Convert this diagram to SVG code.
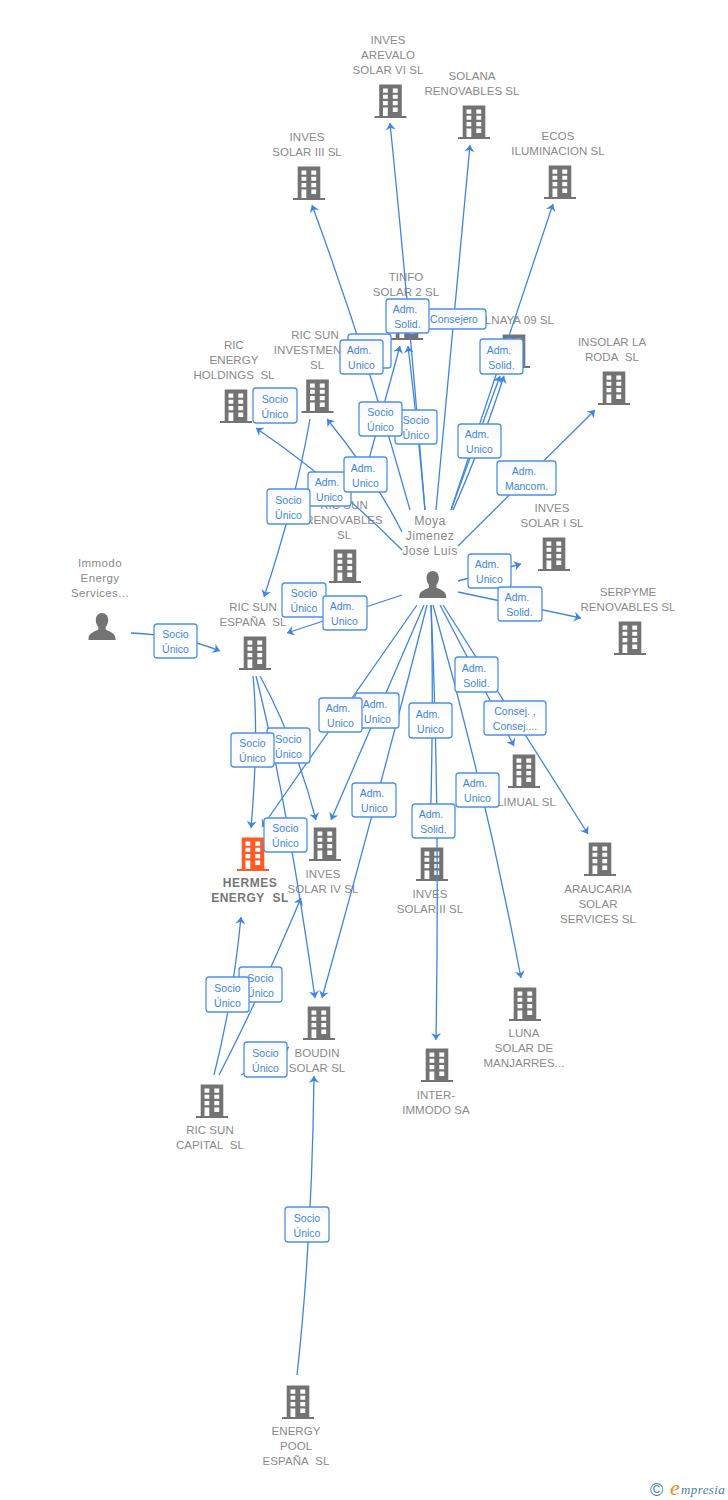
<svg xmlns="http://www.w3.org/2000/svg" width="728" height="1500" viewBox="0 0 728 1500">
<style>
text{font-family:"Liberation Sans",Arial,sans-serif}
.n{font-size:11.5px;letter-spacing:.05px;fill:#8a8a8a;text-anchor:middle}
.m{font-size:11.5px;letter-spacing:.4px;fill:#8a8a8a;text-anchor:middle}
.h{font-size:12px;letter-spacing:.5px;fill:#777;font-weight:bold;text-anchor:middle}
.p{font-size:12.3px;letter-spacing:.4px;fill:#8a8a8a;text-anchor:middle}
.g{fill:#737373}
.o{fill:#ff5a26}
#edges path{fill:none;stroke:#3f84e2;stroke-width:1.3;marker-end:url(#a)}
#labels rect{fill:url(#f);stroke:#4f90e6;stroke-width:1.3}
#labels text{font-size:10.5px;fill:#3f84e2;text-anchor:middle}
</style>
<defs>
<linearGradient id="f" x1="0" y1="0" x2="0" y2="1"><stop offset="0" stop-color="#f6f7f9"/><stop offset=".5" stop-color="#fff"/></linearGradient>
<marker id="a" viewBox="-8 -6 9 12" markerWidth="9" markerHeight="12" refX="0" refY="0" orient="auto" markerUnits="userSpaceOnUse"><path d="M-7-5L0 0L-7 5L-4.800 0Z" fill="#3f84e2"/></marker>
<path id="b" fill-rule="evenodd" d="M-11.300-33.500H11.300V-2H16V0H-16V-2H-11.300ZM-7.500-29.500V-25.300H-2.700V-29.500ZM2.300-29.500V-25.300H7.200V-29.500ZM-7.500-23.300V-19.200H-2.700V-23.300ZM2.300-23.300V-19.200H7.200V-23.300ZM-7.500-17V-12.800H-2.700V-17ZM2.300-17V-12.800H7.200V-17ZM-7.500-10.500V-2H-2.700V-10.500ZM2.300-10.500V-6H7.200V-10.500Z"/>
<path id="u" d="M0-27C3.800-27 6.200-24 6.200-20C6.200-17 5-14.500 3.700-13V-10.500C6-8.800 13.500-7.500 13.500-1.500V0H-13.500V-1.500C-13.500-7.500-6-8.800-3.700-10.500V-13C-5-14.500-6.200-17-6.200-20C-6.200-24-3.800-27 0-27Z"/>
</defs>
<rect width="728" height="1500" fill="#fff"/>
<g id="nodes">
<g id="n1"><use href="#b" class="g" x="390.500" y="118"/><text class="n" x="388" y="44">INVES</text><text class="n" x="388" y="59">AREVALO</text><text class="n" x="388" y="74">SOLAR VI SL</text></g>
<g id="n2"><use href="#b" class="g" x="474" y="139"/><text class="n" x="472" y="80">SOLANA</text><text class="n" x="472" y="95">RENOVABLES SL</text></g>
<g id="n3"><use href="#b" class="g" x="309" y="200"/><text class="n" x="307" y="141">INVES</text><text class="n" x="307" y="156">SOLAR III SL</text></g>
<g id="n4"><use href="#b" class="g" x="560" y="199"/><text class="n" x="558" y="140">ECOS</text><text class="n" x="558" y="155">ILUMINACION SL</text></g>
<g id="n5"><use href="#b" class="g" x="407" y="340"/><text class="n" x="406" y="281">TINFO</text><text class="n" x="406" y="296">SOLAR 2 SL</text></g>
<g id="n6"><use href="#b" class="g" x="514" y="368"/><text class="n" x="554" y="324" style="text-anchor:end">LNAYA 09 SL</text></g>
<g id="n7"><use href="#b" class="g" x="614" y="405"/><text class="n" x="612" y="346">INSOLAR LA</text><text class="n" x="612" y="361">RODA&#160; SL</text></g>
<g id="n8"><use href="#b" class="g" x="236" y="423"/><text class="n" x="234" y="349">RIC</text><text class="n" x="234" y="364">ENERGY</text><text class="n" x="234" y="379">HOLDINGS&#160; SL</text></g>
<g id="n9"><use href="#b" class="g" x="317.500" y="413"/><text class="n" x="315" y="339">RIC SUN</text><text class="n" x="315" y="354">INVESTMENTS</text><text class="n" x="317" y="369">SL</text></g>
<g id="n10"><use href="#b" class="g" x="345" y="583"/><text class="n" x="344" y="509">RIC SUN</text><text class="n" x="344" y="524">RENOVABLES</text><text class="n" x="344" y="539">SL</text></g>
<g id="n11"><use href="#b" class="g" x="554" y="571"/><text class="n" x="552" y="512">INVES</text><text class="n" x="552" y="527">SOLAR I SL</text></g>
<g id="n12"><use href="#b" class="g" x="630" y="655"/><text class="n" x="628" y="596">SERPYME</text><text class="n" x="628" y="611">RENOVABLES SL</text></g>
<g id="n13"><use href="#u" class="g" x="102" y="640"/><text class="m" x="100" y="567">Immodo</text><text class="m" x="100" y="582">Energy</text><text class="m" x="100" y="597">Services...</text></g>
<g id="n14"><use href="#b" class="g" x="255" y="670"/><text class="n" x="253" y="611">RIC SUN</text><text class="n" x="253" y="626">ESPAÑA&#160; SL</text></g>
<g id="n15"><use href="#u" class="g" x="432.700" y="598"/><text class="p" x="430" y="525">Moya</text><text class="p" x="430" y="540">Jimenez</text><text class="p" x="430" y="555">Jose Luis</text></g>
<g id="n16"><use href="#b" class="o" x="253" y="871"/><text class="h" x="250" y="887">HERMES</text><text class="h" x="250" y="902">ENERGY&#160; SL</text></g>
<g id="n17"><use href="#b" class="g" x="325" y="861"/><text class="n" x="323" y="878">INVES</text><text class="n" x="323" y="893">SOLAR IV SL</text></g>
<g id="n18"><use href="#b" class="g" x="432" y="881"/><text class="n" x="430" y="898">INVES</text><text class="n" x="430" y="913">SOLAR II SL</text></g>
<g id="n19"><use href="#b" class="g" x="524" y="788"/><text class="n" x="556" y="806" style="text-anchor:end">LIMUAL SL</text></g>
<g id="n20"><use href="#b" class="g" x="600" y="876"/><text class="n" x="598" y="893">ARAUCARIA</text><text class="n" x="598" y="908">SOLAR</text><text class="n" x="598" y="923">SERVICES SL</text></g>
<g id="n21"><use href="#b" class="g" x="319" y="1040"/><text class="n" x="317" y="1057">BOUDIN</text><text class="n" x="317" y="1072">SOLAR SL</text></g>
<g id="n22"><use href="#b" class="g" x="525" y="1021"/><text class="n" x="524" y="1037">LUNA</text><text class="n" x="524" y="1052">SOLAR DE</text><text class="n" x="524" y="1067">MANJARRES...</text></g>
<g id="n23"><use href="#b" class="g" x="437" y="1082"/><text class="n" x="436" y="1099">INTER-</text><text class="n" x="436" y="1114">IMMODO SA</text></g>
<g id="n24"><use href="#b" class="g" x="212" y="1118"/><text class="n" x="210" y="1134">RIC SUN</text><text class="n" x="210" y="1149">CAPITAL&#160; SL</text></g>
<g id="n25"><use href="#b" class="g" x="298" y="1419"/><text class="n" x="296" y="1435">ENERGY</text><text class="n" x="296" y="1450">POOL</text><text class="n" x="296" y="1465">ESPAÑA&#160; SL</text></g>
</g>
<g id="edges">
<path d="M410 510Q366 352 312 205"/>
<path d="M425 510Q408 300 390 123"/>
<path d="M436 510L470 145"/>
<path d="M451 510L553 204"/>
<path d="M451 510L500 376"/>
<path d="M453 510Q478 455 504 376"/>
<path d="M458 546L595 410"/>
<path d="M425 510Q417 420 408 346"/>
<path d="M360 492L400 346"/>
<path d="M402 550Q335 482 256 428"/>
<path d="M402 532Q375 478 327 419"/>
<path d="M402 595L287 633"/>
<path d="M310 419Q296 500 264 597"/>
<path d="M131 633Q180 635 220 651"/>
<path d="M458 581L521 564"/>
<path d="M458 592L581 618"/>
<path d="M440 605L514 746"/>
<path d="M443 605L588 834"/>
<path d="M433 605Q485 788 521 978"/>
<path d="M431 605Q440 800 436 1040"/>
<path d="M431 605Q434 700 430 838"/>
<path d="M417 605L262 827"/>
<path d="M424 605L331 820"/>
<path d="M427 605Q380 790 322 998"/>
<path d="M253 676Q259 735 251 828"/>
<path d="M260 676Q295 740 316 820"/>
<path d="M256 676Q285 790 315 998"/>
<path d="M214 1075Q233 1000 241 917"/>
<path d="M219 1075Q258 1000 301 898"/>
<path d="M241 1075L289 1047"/>
<path d="M297 1375Q312 1240 314 1076"/>
</g>
<g id="labels">
<rect x="421" y="309" width="65" height="20" rx="3"/><text x="454" y="323">Consejero</text>
<rect x="386" y="299" width="43" height="34" rx="3"/><text x="405" y="313">Adm.</text><text x="407.500" y="328">Solid.</text>
<rect x="348" y="334" width="43" height="34" rx="3"/>
<rect x="340" y="340" width="43" height="34" rx="3"/><text x="359" y="354">Adm.</text><text x="361.500" y="369">Unico</text>
<rect x="480" y="339" width="43" height="35" rx="3"/><text x="499" y="354">Adm.</text><text x="501.500" y="369">Solid.</text>
<rect x="253" y="388" width="44" height="35" rx="3"/><text x="275" y="403">Socio</text><text x="275" y="418">Único</text>
<rect x="395" y="410" width="42" height="34" rx="3"/><text x="416" y="424">Socio</text><text x="416" y="439">Único</text>
<rect x="359" y="402" width="43" height="34" rx="3"/><text x="380.500" y="416">Socio</text><text x="380.500" y="431">Único</text>
<rect x="458" y="424" width="43" height="34" rx="3"/><text x="477" y="438">Adm.</text><text x="479.500" y="453">Unico</text>
<rect x="497" y="461" width="59" height="34" rx="3"/><text x="524" y="475">Adm.</text><text x="526.500" y="490">Mancom.</text>
<rect x="308" y="472" width="43" height="34" rx="3"/><text x="327" y="486">Adm.</text><text x="329.500" y="501">Unico</text>
<rect x="344" y="457" width="43" height="35" rx="3"/><text x="363" y="472">Adm.</text><text x="365.500" y="487">Unico</text>
<rect x="267" y="489" width="43" height="35" rx="3"/><text x="288.500" y="504">Socio</text><text x="288.500" y="519">Único</text>
<rect x="468" y="554" width="43" height="34" rx="3"/><text x="487" y="568">Adm.</text><text x="489.500" y="583">Unico</text>
<rect x="498" y="587" width="44" height="34" rx="3"/><text x="517" y="601">Adm.</text><text x="519.500" y="616">Solid.</text>
<rect x="282" y="583" width="44" height="34" rx="3"/><text x="304" y="597">Socio</text><text x="304" y="612">Único</text>
<rect x="323" y="596" width="44" height="34" rx="3"/><text x="342" y="610">Adm.</text><text x="344.500" y="625">Unico</text>
<rect x="154" y="624" width="43" height="34" rx="3"/><text x="175.500" y="638">Socio</text><text x="175.500" y="653">Único</text>
<rect x="455" y="657" width="43" height="35" rx="3"/><text x="474" y="672">Adm.</text><text x="476.500" y="687">Solid.</text>
<rect x="484" y="701" width="62" height="34" rx="3"/><text x="515" y="715">Consej. ,</text><text x="515" y="730">Consej....</text>
<rect x="355" y="693" width="44" height="35" rx="3"/><text x="375" y="708">Adm.</text><text x="377.500" y="723">Unico</text>
<rect x="319" y="698" width="43" height="34" rx="3"/><text x="338" y="712">Adm.</text><text x="340.500" y="727">Unico</text>
<rect x="409" y="703" width="43" height="35" rx="3"/><text x="428" y="718">Adm.</text><text x="430.500" y="733">Unico</text>
<rect x="267" y="728" width="43" height="35" rx="3"/><text x="288.500" y="743">Socio</text><text x="288.500" y="758">Único</text>
<rect x="231" y="733" width="43" height="34" rx="3"/><text x="252.500" y="747">Socio</text><text x="252.500" y="762">Único</text>
<rect x="352" y="783" width="44" height="34" rx="3"/><text x="372" y="797">Adm.</text><text x="374.500" y="812">Unico</text>
<rect x="456" y="773" width="43" height="34" rx="3"/><text x="475" y="787">Adm.</text><text x="477.500" y="802">Unico</text>
<rect x="412" y="804" width="43" height="34" rx="3"/><text x="431" y="818">Adm.</text><text x="433.500" y="833">Solid.</text>
<rect x="264" y="818" width="43" height="34" rx="3"/><text x="285.500" y="832">Socio</text><text x="285.500" y="847">Único</text>
<rect x="239" y="967" width="43" height="35" rx="3"/><text x="260.500" y="982">Socio</text><text x="260.500" y="997">Único</text>
<rect x="206" y="977" width="43" height="35" rx="3"/><text x="227.500" y="992">Socio</text><text x="227.500" y="1007">Único</text>
<rect x="244" y="1042" width="43" height="35" rx="3"/><text x="265.500" y="1057">Socio</text><text x="265.500" y="1072">Único</text>
<rect x="285" y="1207" width="44" height="35" rx="3"/><text x="307" y="1222">Socio</text><text x="307" y="1237">Único</text>
</g>
<g id="logo">
<text x="650" y="1496" style="font-size:18px;fill:#4a7f9c">©</text>
<text x="670" y="1495" style="font-size:22px;font-style:italic;fill:#f08a24;font-family:'Liberation Serif',serif">e</text>
<text x="681" y="1494" style="font-size:13px;font-style:italic;fill:#4a7f9c;font-family:'Liberation Serif',serif;letter-spacing:.4px">mpresia</text>
</g>
</svg>
